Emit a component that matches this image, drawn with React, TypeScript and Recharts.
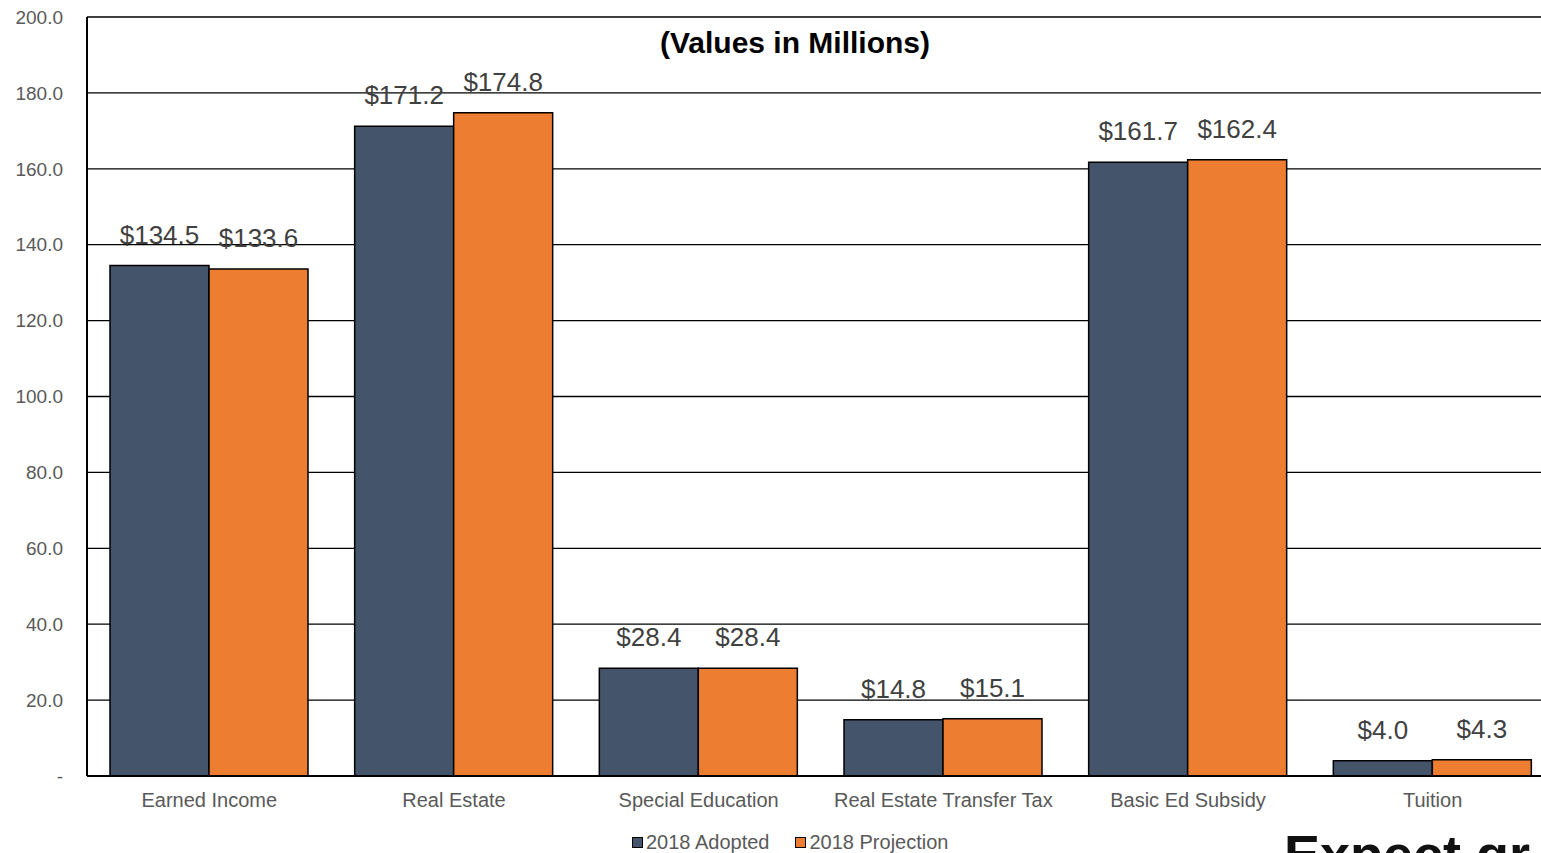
import React from "react";
import { BarChart, Bar, XAxis, YAxis, CartesianGrid, LabelList } from "recharts";

const categories = ["Earned Income", "Real Estate", "Special Education", "Real Estate Transfer Tax", "Basic Ed Subsidy", "Tuition"];
const adopted = [134.5, 171.2, 28.4, 14.8, 161.7, 4.0];
const projection = [133.6, 174.8, 28.4, 15.1, 162.4, 4.3];
const yTicks = [0, 20, 40, 60, 80, 100, 120, 140, 160, 180, 200];
const seriesNames = ["2018 Adopted", "2018 Projection"];

const data = categories.map((c, i) => ({ name: c, adopted: adopted[i], projection: projection[i] }));

const FONT = "'Liberation Sans', Arial, sans-serif";
const DARK = "#44546A";
const ORANGE = "#ED7D31";

const renderLabel = (props: any) => {
  const { x, y, width, value } = props;
  return (
    <text x={x + width / 2} y={y - 22} textAnchor="middle" fontSize={26} fill="#404040" fontFamily={FONT}>
      ${Number(value).toFixed(1)}
    </text>
  );
};

export default function App() {
  return (
    <div style={{ position: "absolute", left: 0, top: 0, width: 1541, height: 853, overflow: "hidden", background: "#fff", fontFamily: FONT }}>
      <BarChart
        width={1600}
        height={853}
        data={data}
        margin={{ top: 17, right: 45, left: 0, bottom: 0 }}
        barCategoryGap="9.4%"
        barGap={0}
      >
        <CartesianGrid vertical={false} stroke="#000" strokeWidth={1.3} />
        <XAxis
          dataKey="name"
          height={77}
          tickLine={false}
          tickSize={0}
          tickMargin={17}
          axisLine={{ stroke: "#000", strokeWidth: 2 }}
          tick={{ fontSize: 20, fill: "#595959", fontFamily: FONT }}
          interval={0}
        />
        <YAxis
          width={87}
          domain={[0, 200]}
          ticks={yTicks}
          interval={0}
          tickLine={false}
          tickSize={0}
          tickMargin={24}
          axisLine={{ stroke: "#000", strokeWidth: 2 }}
          tick={{ fontSize: 19, fill: "#595959", fontFamily: FONT }}
          tickFormatter={(v: number) => (v === 0 ? "-" : v.toFixed(1))}
        />
        <Bar dataKey="adopted" name={seriesNames[0]} fill={DARK} stroke="#000" strokeWidth={1.5} isAnimationActive={false}>
          <LabelList dataKey="adopted" content={renderLabel} />
        </Bar>
        <Bar dataKey="projection" name={seriesNames[1]} fill={ORANGE} stroke="#000" strokeWidth={1.5} isAnimationActive={false}>
          <LabelList dataKey="projection" content={renderLabel} />
        </Bar>
        <text x={795} y={53} textAnchor="middle" fontSize={30} fontWeight="bold" fill="#000" fontFamily={FONT}>
          (Values in Millions)
        </text>
      </BarChart>
      <div style={{ position: "absolute", left: 632, top: 831, display: "flex", alignItems: "center", fontSize: 20, lineHeight: "22px", color: "#595959", whiteSpace: "nowrap" }}>
        <span style={{ display: "inline-block", width: 9, height: 9, background: DARK, border: "1px solid #000", marginRight: 3 }} />
        <span style={{ marginRight: 26 }}>{seriesNames[0]}</span>
        <span style={{ display: "inline-block", width: 9, height: 9, background: ORANGE, border: "1px solid #000", marginRight: 3 }} />
        <span>{seriesNames[1]}</span>
      </div>
      <div style={{ position: "absolute", left: 1284, top: 827, fontSize: 54, fontWeight: "bold", color: "#111", whiteSpace: "nowrap", lineHeight: "54px" }}>
        Expect gr
      </div>
    </div>
  );
}
